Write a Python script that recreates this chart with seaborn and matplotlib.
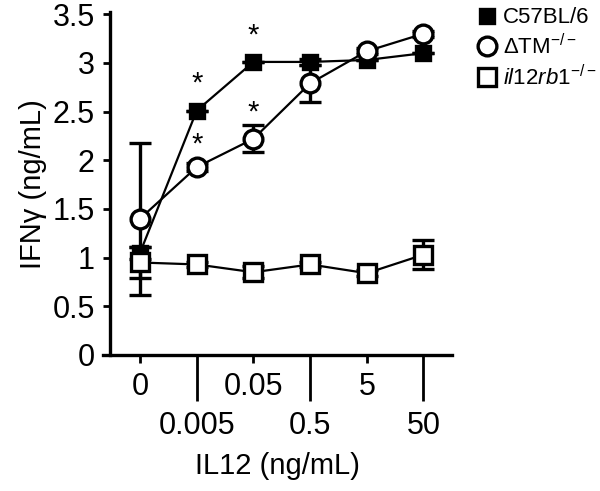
import numpy as np
import pandas as pd
import matplotlib
matplotlib.use("Agg")
import matplotlib.pyplot as plt
import seaborn as sns

# dose positions (categorical, evenly spaced) and tick labels
dose_pos = [0, 1, 2, 3, 4, 5]
dose_labels = ["0", "0.005", "0.05", "0.5", "5", "50"]

# IFNg (ng/mL) means and error bars
c57_mean = [1.05, 2.51, 3.01, 3.01, 3.03, 3.10]
c57_err = [0.06, 0.0, 0.0, 0.03, 0.0, 0.0]
dtm_mean = [1.40, 1.93, 2.22, 2.79, 3.12, 3.30]
dtm_err = [0.78, 0.04, 0.14, 0.19, 0.03, 0.03]
il12_mean = [0.95, 0.93, 0.85, 0.93, 0.84, 1.03]
il12_err = [0.16, 0.03, 0.06, 0.03, 0.03, 0.15]

# significance stars: (x, y)
star_x = [1, 2, 1, 2]
star_y = [2.64, 3.14, 2.02, 2.35]

sns.set_style("ticks")
plt.rcParams["font.family"] = ["Liberation Sans", "DejaVu Sans"]
plt.rcParams["mathtext.fontset"] = "custom"
plt.rcParams["mathtext.rm"] = "Liberation Sans"
plt.rcParams["mathtext.it"] = "Liberation Sans:italic"
plt.rcParams["text.color"] = "black"
plt.rcParams["axes.labelcolor"] = "black"
plt.rcParams["xtick.color"] = "black"
plt.rcParams["ytick.color"] = "black"
plt.rcParams["axes.edgecolor"] = "black"

fig = plt.figure(figsize=(6, 4.91), dpi=100)
ax = fig.add_axes([0.172, 0.277, 0.581, 0.698])

df = pd.concat([
    pd.DataFrame({"dose": dose_pos, "ifng": c57_mean, "err": c57_err, "group": "C57BL/6"}),
    pd.DataFrame({"dose": dose_pos, "ifng": dtm_mean, "err": dtm_err, "group": "ΔTM$^{-/-}$"}),
    pd.DataFrame({"dose": dose_pos, "ifng": il12_mean, "err": il12_err, "group": r"$\mathit{il12rb1}^{-/-}$"}),
])

styles = {
    "C57BL/6": dict(marker="s", mfc="black", ms=10.5),
    "ΔTM$^{-/-}$": dict(marker="o", mfc="white", ms=13.5),
    r"$\mathit{il12rb1}^{-/-}$": dict(marker="s", mfc="white", ms=12.5),
}

# error bars first so markers sit on top
for g, sub in df.groupby("group", sort=False):
    ax.errorbar(sub["dose"], sub["ifng"], yerr=sub["err"], fmt="none",
                ecolor="black", elinewidth=2.4, capsize=8, capthick=2.4, zorder=2)

for g, sub in df.groupby("group", sort=False):
    st = styles[g]
    sns.lineplot(data=sub, x="dose", y="ifng", ax=ax, color="black", lw=1.6,
                 marker=st["marker"], markerfacecolor=st["mfc"], markeredgecolor="black",
                 markeredgewidth=2.4, markersize=st["ms"], label=g, zorder=3)

for x, y in zip(star_x, star_y):
    ax.text(x, y, "*", ha="center", va="bottom", fontsize=21)

ax.set_xlim(-0.65, 5.5)
ax.set_ylim(0, 3.52)
ax.set_yticks([0, 0.5, 1, 1.5, 2, 2.5, 3, 3.5])
ax.set_yticklabels(["0", "0.5", "1", "1.5", "2", "2.5", "3", "3.5"])

ax.set_xticks(dose_pos[0::2])
ax.set_xticklabels(dose_labels[0::2])
ax.set_xticks(dose_pos[1::2], minor=True)
ax.set_xticklabels(dose_labels[1::2], minor=True)
ax.tick_params(axis="x", which="major", length=6, width=2, pad=6, labelsize=22)
ax.tick_params(axis="x", which="minor", length=33, width=2, pad=7, labelsize=22)
ax.tick_params(axis="y", length=5, width=2, pad=6, labelsize=22)

sns.despine(ax=ax)
ax.spines["left"].set_position(("data", -0.53))
for s in ["left", "bottom"]:
    ax.spines[s].set_linewidth(2.4)

ax.set_xlabel("IL12 (ng/mL)", fontsize=21, labelpad=8)
ax.set_ylabel("IFNγ (ng/mL)", fontsize=21, labelpad=4)

ax.legend(loc="upper left", bbox_to_anchor=(1.05, 1.04), frameon=False, fontsize=16,
          handlelength=0.8, handletextpad=0.3, labelspacing=0.25, borderaxespad=0)
leg = ax.get_legend()
for line in leg.get_lines():
    line.set_linestyle("none")

fig.savefig("out.png", dpi=100)
